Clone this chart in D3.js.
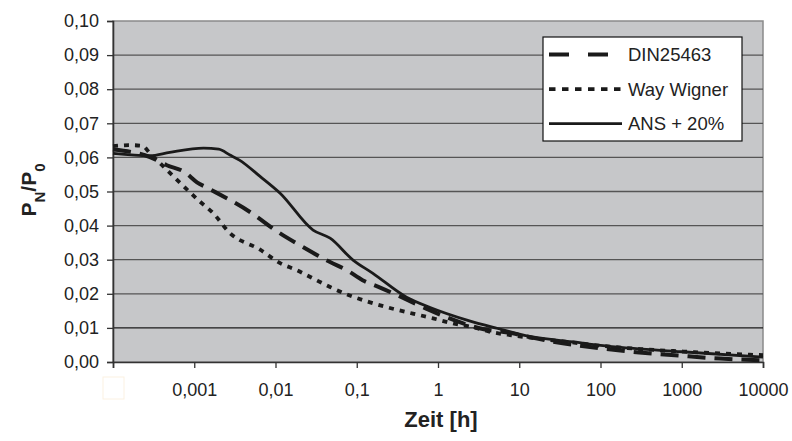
<!DOCTYPE html>
<html>
<head>
<meta charset="utf-8">
<script src="https://cdn.jsdelivr.net/npm/d3@7"></script>
<style>
  body { margin: 0; background: #fff; }
  text { font-family: "Liberation Sans", Arial, sans-serif; fill: #222; }
</style>
</head>
<body>
<svg id="chart" width="792" height="441"></svg>
<script>
"use strict";

// Achsen-Beschriftungen
const xTicks = [0.0001, 0.001, 0.01, 0.1, 1, 10, 100, 1000, 10000];
const xTickLabels = ["", "0,001", "0,01", "0,1", "1", "10", "100", "1000", "10000"];
const yTicks = [0, 0.01, 0.02, 0.03, 0.04, 0.05, 0.06, 0.07, 0.08, 0.09, 0.1];
const yTickLabels = ["0,00", "0,01", "0,02", "0,03", "0,04", "0,05", "0,06", "0,07", "0,08", "0,09", "0,10"];

// DIN25463
const dinTime  = [0.0001, 0.000285, 0.00046, 0.00076, 0.00108, 0.00147, 0.00485, 0.0114, 0.02, 0.047, 0.0757, 0.118, 0.191, 0.487, 0.79, 1.28, 3.24, 8.3, 13.4, 30, 100, 300, 1000, 3000, 10000];
const dinValue = [0.0623, 0.0601, 0.0577, 0.0557, 0.0527, 0.051, 0.044, 0.0377, 0.0342, 0.0293, 0.0269, 0.024, 0.0219, 0.0175, 0.0152, 0.0131, 0.0099, 0.0084, 0.0073, 0.0057, 0.0040, 0.0028, 0.0018, 0.0010, 0.0005];

// Way Wigner
const wwTime  = [0.0001, 0.00016, 0.00023, 0.000285, 0.00058, 0.00118, 0.0017, 0.00275, 0.0064, 0.0114, 0.0184, 0.029, 0.047, 0.082, 0.146, 0.27, 0.49, 0.87, 1.53, 2.7, 4.7, 8.3, 17.9, 55, 98, 310, 980, 3100, 10000];
const wwValue = [0.0633, 0.0636, 0.0634, 0.0612, 0.054, 0.047, 0.0437, 0.0378, 0.033, 0.029, 0.0269, 0.0245, 0.022, 0.0195, 0.0175, 0.0157, 0.0142, 0.0128, 0.0113, 0.0102, 0.0087, 0.0078, 0.0068, 0.0055, 0.0048, 0.0038, 0.0031, 0.0025, 0.0020];

// ANS + 20%
const ansTime  = [0.0001, 0.000285, 0.0005, 0.0013, 0.002, 0.00275, 0.0036, 0.0064, 0.0114, 0.029, 0.047, 0.09, 0.158, 0.41, 0.8, 2.27, 5.3, 13.5, 50, 100, 1000, 10000];
const ansValue = [0.0612, 0.0605, 0.0615, 0.0627, 0.0624, 0.0607, 0.0592, 0.0545, 0.0495, 0.0387, 0.0363, 0.0299, 0.026, 0.019, 0.016, 0.0123, 0.0099, 0.0075, 0.0058, 0.0049, 0.0030, 0.0014];

const seriesNames = ["DIN25463", "Way Wigner", "ANS + 20%"];

const svg = d3.select("#chart");
const margin = { left: 113, right: 29, top: 21, bottom: 79 };
const width = 792 - margin.left - margin.right;
const height = 441 - margin.top - margin.bottom;

const x = d3.scaleLog().domain([0.0001, 10000]).range([0, width]);
const y = d3.scaleLinear().domain([0, 0.1]).range([height, 0]);

const g = svg.append("g").attr("transform", `translate(${margin.left},${margin.top})`);

// Diagrammfläche
g.append("rect")
  .attr("width", width)
  .attr("height", height)
  .attr("fill", "#c6c7c9")
  .attr("stroke", "#8a8a8a")
  .attr("stroke-width", 1.5);

// Gitternetzlinien
g.selectAll("line.grid")
  .data(yTicks.slice(1, -1))
  .enter()
  .append("line")
  .attr("class", "grid")
  .attr("x1", 0)
  .attr("x2", width)
  .attr("y1", (d) => y(d))
  .attr("y2", (d) => y(d))
  .attr("stroke", (d) => (d === 0.01 ? "#1a1a1a" : "#555"))
  .attr("stroke-width", 1.3);

// Achsen
const yAxis = d3.axisLeft(y)
  .tickValues(yTicks)
  .tickSize(6)
  .tickPadding(8)
  .tickFormat((d, i) => yTickLabels[i]);
const yAxisG = g.append("g").call(yAxis);

const xAxis = d3.axisBottom(x)
  .tickValues(xTicks)
  .tickSize(6)
  .tickPadding(15)
  .tickFormat((d, i) => xTickLabels[i]);
const xAxisG = g.append("g").attr("transform", `translate(0,${height})`).call(xAxis);

[yAxisG, xAxisG].forEach((a) => {
  a.select(".domain").attr("stroke", "#333").attr("stroke-width", 1.6);
  a.selectAll(".tick line").attr("stroke", "#333").attr("stroke-width", 1.3);
  a.selectAll(".tick text")
    .attr("fill", "#222")
    .style("font-size", "18px")
    .style("font-family", "'Liberation Sans', Arial, sans-serif");
});

// kleines leeres Kästchen unter dem ersten Tick
svg.append("rect")
  .attr("x", 103).attr("y", 377).attr("width", 21).attr("height", 22)
  .attr("fill", "none").attr("stroke", "#fbf1e2").attr("stroke-width", 1);

// Kurven
const line = d3.line()
  .x((d) => x(d[0]))
  .y((d) => y(d[1]))
  .curve(d3.curveMonotoneX);

const series = [
  { name: seriesNames[0], pts: d3.zip(dinTime, dinValue), dash: "18,9", w: 4 },
  { name: seriesNames[1], pts: d3.zip(wwTime, wwValue), dash: "5,6", w: 3.8 },
  { name: seriesNames[2], pts: d3.zip(ansTime, ansValue), dash: null, w: 2.8 }
];

g.selectAll("path.series")
  .data(series)
  .enter()
  .append("path")
  .attr("class", "series")
  .attr("d", (d) => line(d.pts))
  .attr("fill", "none")
  .attr("stroke", "#1a1a1a")
  .attr("stroke-width", (d) => d.w)
  .attr("stroke-dasharray", (d) => d.dash);

// Legende
const legend = svg.append("g").attr("transform", "translate(543,37)");
legend.append("rect")
  .attr("width", 199)
  .attr("height", 104)
  .attr("fill", "#fff")
  .attr("stroke", "#111")
  .attr("stroke-width", 1.2);

const legendDash = ["20,19", "6.5,6.5", null];
const legendRow = legend.selectAll("g.row")
  .data(series)
  .enter()
  .append("g")
  .attr("class", "row")
  .attr("transform", (d, i) => `translate(0,${17.5 + i * 34.6})`);

legendRow.append("line")
  .attr("x1", 6)
  .attr("x2", (d, i) => (i === 0 ? 65 : 79))
  .attr("stroke", "#1a1a1a")
  .attr("stroke-width", (d) => d.w)
  .attr("stroke-dasharray", (d, i) => legendDash[i]);

legendRow.append("text")
  .attr("x", 85)
  .attr("dy", "0.35em")
  .style("font-size", "18.5px")
  .text((d) => d.name);

// Achsentitel
svg.append("text")
  .attr("x", margin.left + width / 2 + 3)
  .attr("y", 427)
  .attr("text-anchor", "middle")
  .style("font-size", "22px")
  .style("font-weight", "bold")
  .text("Zeit [h]");

const yTitle = svg.append("text")
  .attr("transform", "translate(36,190) rotate(-90)")
  .attr("text-anchor", "middle")
  .style("font-size", "21px")
  .style("font-weight", "bold");
yTitle.append("tspan").text("P");
yTitle.append("tspan").attr("baseline-shift", "sub").style("font-size", "15px").text("N");
yTitle.append("tspan").text("/P");
yTitle.append("tspan").attr("baseline-shift", "sub").style("font-size", "15px").text("0");
</script>
</body>
</html>
